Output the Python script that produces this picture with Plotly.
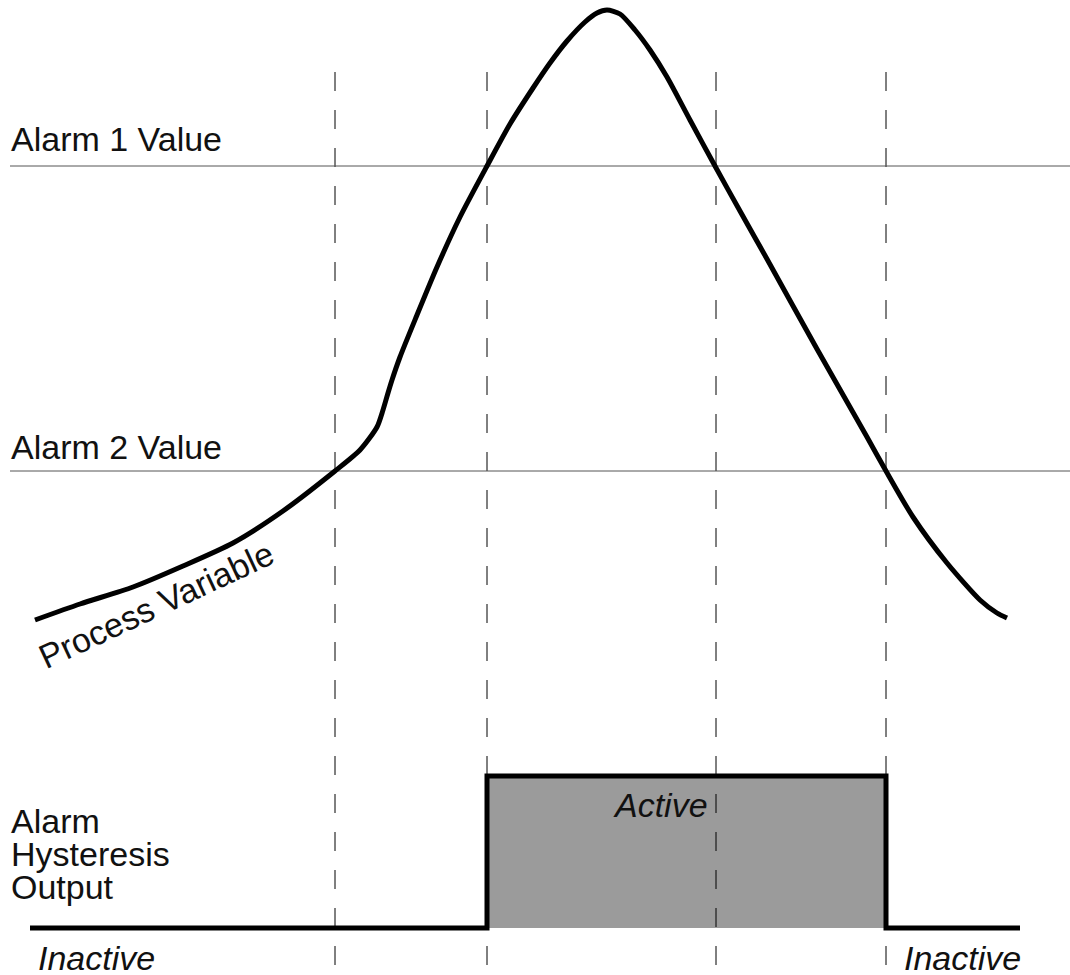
import plotly.graph_objects as go

# process variable curve (screen px, y grows downward)
pv_x = [35, 80, 133, 183, 233, 283, 335, 360, 377, 383, 388, 392, 400, 417, 437, 460,
        487, 510, 533, 550, 567, 585, 597, 607, 620, 635, 650, 667, 690, 715, 740, 767, 817, 867,
        886, 913, 947, 980, 997, 1007]
pv_y = [620, 604, 587, 566, 543, 511, 471, 450, 427, 410, 393, 380, 357, 315, 267, 217,
        166, 124, 88, 63, 41, 22, 13, 10, 14, 30, 50, 77, 120, 166, 211, 259, 349, 437,
        471, 517, 563, 600, 613, 618]

alarm_levels = [166, 471]
alarm_labels = ["Alarm 1 Value", "Alarm 2 Value"]
switch_x = [335, 487, 716, 886]

# hysteresis output: inactive -> active -> inactive
out_x = [30, 487, 487, 886, 886, 1020]
out_y = [928, 928, 776, 776, 928, 928]
active_x = [487, 487, 886, 886]
active_y = [928, 776, 776, 928]

W, H = 1070, 975
FONT = "Liberation Sans, Arial, Helvetica, sans-serif"
INK = "#111111"

fig = go.Figure()

fig.add_trace(go.Scatter(x=active_x, y=active_y, fill="toself", fillcolor="#9b9b9b",
                         line={"width": 0}, mode="lines", hoverinfo="skip"))

for sx in switch_x:
    fig.add_trace(go.Scatter(x=[sx, sx], y=[72, H], mode="lines", hoverinfo="skip",
                             line={"color": "#000000", "width": 1, "dash": "19px,19px"}))

for level in alarm_levels:
    fig.add_trace(go.Scatter(x=[10, W], y=[level, level], mode="lines", hoverinfo="skip",
                             line={"color": "#555555", "width": 1}))

fig.add_trace(go.Scatter(x=pv_x, y=pv_y, mode="lines", hoverinfo="skip",
                         line={"color": "#000000", "width": 5, "shape": "spline", "smoothing": 0.7}))
fig.add_trace(go.Scatter(x=out_x, y=out_y, mode="lines", hoverinfo="skip",
                         line={"color": "#000000", "width": 5}))


def label(text, x, y, xanchor="left", angle=0):
    fig.add_annotation(text=text, x=x, y=y, xref="x", yref="y", xanchor=xanchor, yanchor="middle",
                       showarrow=False, borderpad=0, textangle=angle,
                       font={"family": FONT, "size": 34, "color": INK})


label(alarm_labels[0], 10, alarm_levels[0] - 27)
label(alarm_labels[1], 10, alarm_levels[1] - 24)
for i, word in enumerate(["Alarm", "Hysteresis", "Output"]):
    label(word, 10, 821 + 33 * i)
label("<i>Inactive</i>", 37, 958)
label("<i>Inactive</i>", 962, 958, xanchor="center")
label("<i>Active</i>", 660, 805, xanchor="center")
label("Process Variable", 156, 605, xanchor="center", angle=-25)

fig.update_layout(
    width=W, height=H,
    margin={"l": 0, "r": 0, "t": 0, "b": 0},
    paper_bgcolor="white", plot_bgcolor="white",
    showlegend=False,
)
fig.update_xaxes(range=[0, W], visible=False)
fig.update_yaxes(range=[H, 0], visible=False)

# drop the page's default body margin so the figure sits flush with the window
fig.write_html(
    "out.html",
    config={"displayModeBar": False, "staticPlot": True},
    post_script="document.body.style.margin='0';document.body.style.overflow='hidden';",
)
